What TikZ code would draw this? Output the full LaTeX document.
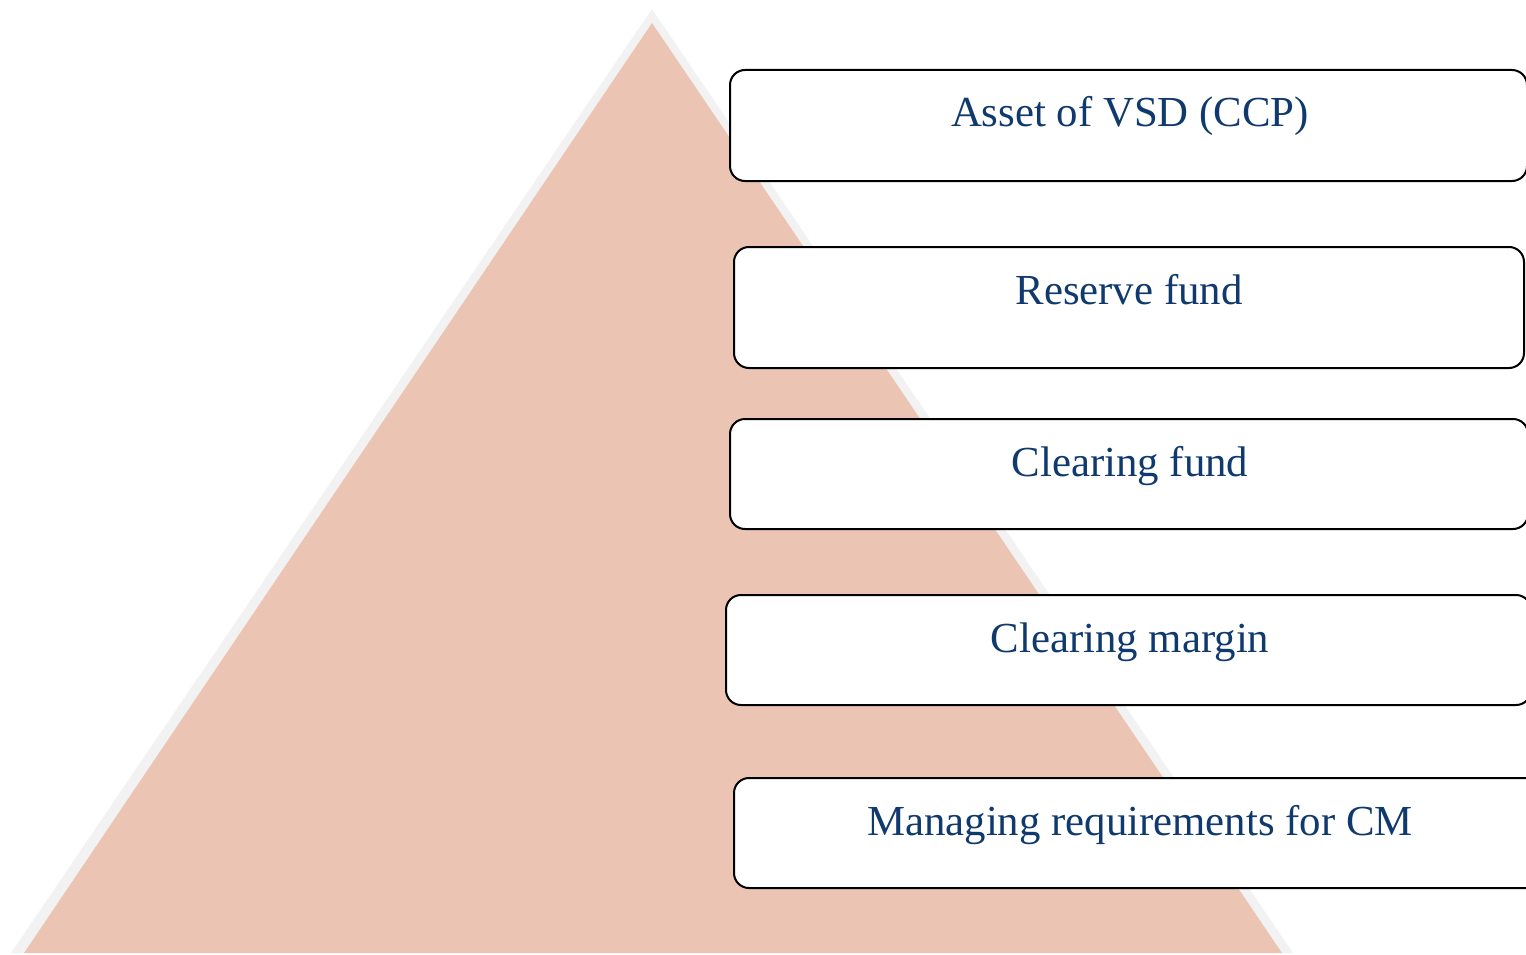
\documentclass[tikz,border=0pt]{standalone}
\usepackage{fontspec}
\setmainfont{Liberation Serif}
\definecolor{pinkfill}{RGB}{235,196,179}
\definecolor{grayedge}{RGB}{242,242,242}
\definecolor{txtblue}{RGB}{16,58,110}
\begin{document}
\begin{tikzpicture}[x=1pt,y=-1pt,
  tier/.style={draw=black,fill=white,line width=2pt,rounded corners=15pt},
  tierlabel/.style={anchor=base,text=txtblue,font=\fontsize{42.8}{50}\selectfont,inner sep=0pt}]
\useasboundingbox (0,0) rectangle (1526,955);
\clip (0,0) rectangle (1526,955);
% pyramid
\fill[grayedge] (652,9) -- (1293,953) -- (11,953) -- cycle;
\fill[pinkfill] (652,23) -- (1282,953) -- (24,953) -- cycle;
% tiers
\draw[tier] (730,70) rectangle (1527,181);
\draw[tier] (734,247) rectangle (1524,368);
\draw[tier] (730,419) rectangle (1528,529);
\draw[tier] (726,595) rectangle (1531,705);
\draw[tier] (734,778) rectangle (1560,888);
\node[tierlabel] (t1) at (1130,127) {Asset of VSD (CCP)};
\node[tierlabel] (t2) at (1129,304) {Reserve fund};
\node[tierlabel] (t3) at (1130,476) {Clearing fund};
\node[tierlabel] (t4) at (1130,652) {Clearing margin};
\node[tierlabel] (t5) at (1140,835) {Managing requirements for CM};
\end{tikzpicture}
\end{document}
